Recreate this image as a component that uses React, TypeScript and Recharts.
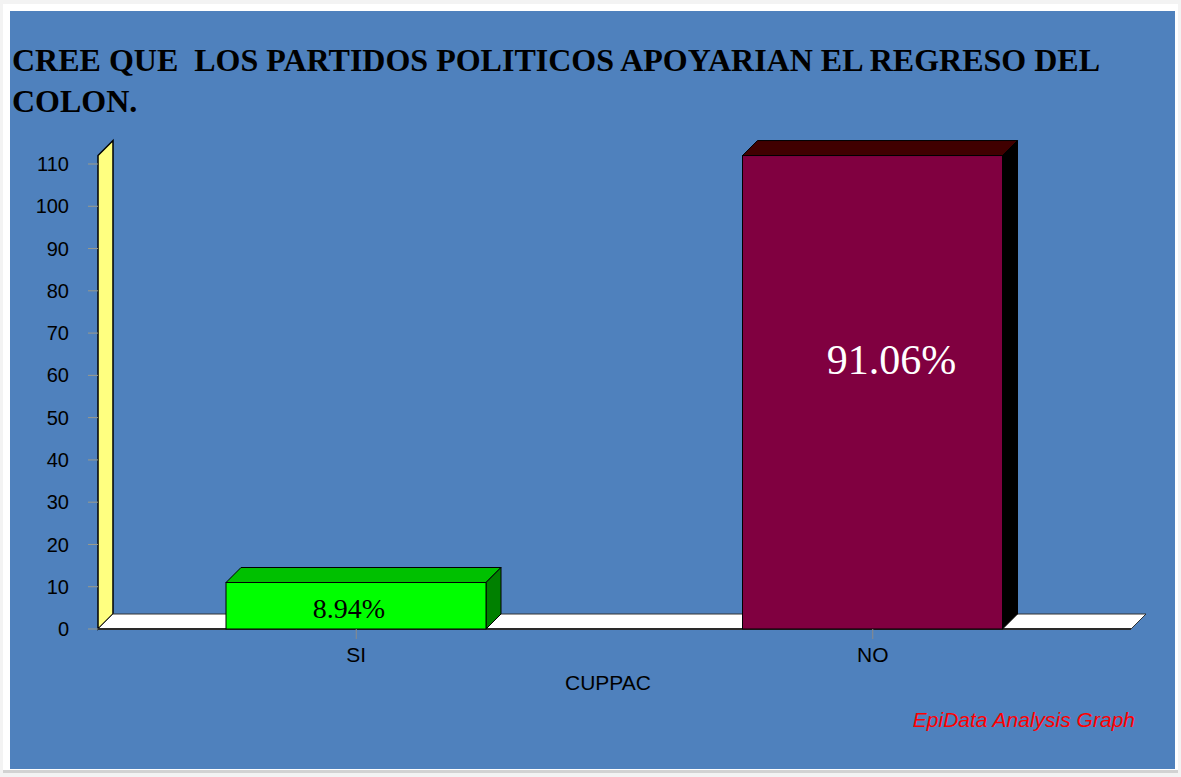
import React from 'react';
import { BarChart, Bar, XAxis, YAxis, ReferenceArea, LabelList } from 'recharts';

// ---- data ----
const categories = ['SI', 'NO'];
const counts = [11, 112];
const yTicks = [0, 10, 20, 30, 40, 50, 60, 70, 80, 90, 100, 110];
const titleLines = ['CREE QUE  LOS PARTIDOS POLITICOS APOYARIAN EL REGRESO DEL', 'COLON.'];
const xAxisTitle = 'CUPPAC';
const footerText = 'EpiData Analysis Graph';

const total = counts.reduce((a, b) => a + b, 0);
const data = categories.map((c, i) => ({
  category: c,
  value: counts[i],
  pct: ((counts[i] / total) * 100).toFixed(2) + '%',
}));
const wallTop = Math.max(...counts);

// ---- styles ----
const DEPTH = 15;
const BAR_STYLES: Record<string, any> = {
  SI: { front: '#00FF00', top: '#00C000', side: '#008000', label: '#000000', fontSize: 28, dx: -7, mode: 'center', dy: 12.5 },
  NO: { front: '#800040', top: '#400000', side: '#000000', label: '#FFFFFF', fontSize: 42, dx: 19, mode: 'top', dy: 218 },
};
const SERIF = '"Liberation Serif", "Times New Roman", serif';
const SANS = '"Liberation Sans", Arial, sans-serif';

const catOf = (props: any) => props.category ?? props.payload?.category ?? categories[props.index ?? 0];

const Box3D = (props: any) => {
  const { x, y, width, height } = props;
  const s = BAR_STYLES[catOf(props)];
  const d = DEPTH;
  return (
    <g>
      <polygon
        points={`${x},${y} ${x + d},${y - d} ${x + width + d},${y - d} ${x + width},${y}`}
        fill={s.top}
        stroke="#000"
        strokeWidth={1}
      />
      <polygon
        points={`${x + width},${y} ${x + width + d},${y - d} ${x + width + d},${y + height - d} ${x + width},${y + height}`}
        fill={s.side}
        stroke="#000"
        strokeWidth={1}
      />
      <rect x={x} y={y} width={width} height={height} fill={s.front} stroke="#000" strokeWidth={1} />
    </g>
  );
};

const WallFloor = (props: any) => {
  const { x, y, width, height } = props;
  const d = DEPTH;
  const bottom = y + height;
  return (
    <g>
      <polygon
        points={`${x},${bottom} ${x},${y} ${x + d},${y - d} ${x + d},${bottom - d}`}
        fill="#FFFF80"
        stroke="#000"
        strokeWidth={1.5}
      />
      <polygon
        points={`${x},${bottom} ${x + d},${bottom - d} ${x + width + d},${bottom - d} ${x + width},${bottom}`}
        fill="#FFFFFF"
        stroke="#333"
        strokeWidth={1}
      />
      <line x1={x} y1={bottom} x2={x + width} y2={bottom} stroke="#2a2a2a" strokeWidth={2} />
    </g>
  );
};

const renderLabel = (props: any) => {
  const vb = props.viewBox || {};
  const x = props.x ?? vb.x;
  const y = props.y ?? vb.y;
  const width = props.width ?? vb.width;
  const height = props.height ?? vb.height;
  const cat = categories[props.index ?? 0];
  const s = BAR_STYLES[cat];
  const cx = x + width / 2 + s.dx;
  const by = s.mode === 'center' ? y + height / 2 + s.dy : y + s.dy;
  return (
    <text x={cx} y={by} textAnchor="middle" fill={s.label} fontSize={s.fontSize} fontFamily={SERIF}>
      {props.value}
    </text>
  );
};

export default function App() {
  return (
    <div style={{ position: 'absolute', left: 0, top: 0, width: 1181, height: 777, background: '#F3F3F3' }}>
      <div style={{ position: 'absolute', left: 3, top: 4, width: 1175, height: 766, background: '#FFFFFF' }} />
      <div style={{ position: 'absolute', left: 3, top: 770, width: 1175, height: 3, background: '#D2D2D2' }} />
      <div style={{ position: 'absolute', left: 10, top: 11, width: 1165, height: 758, background: '#4F81BD' }} />
      <div style={{ position: 'absolute', left: 0, top: 0 }}>
        <BarChart width={1181} height={777} data={data} margin={{ top: 121.73, right: 50, bottom: 108, left: 0 }}>
          <XAxis
            dataKey="category"
            axisLine={false}
            tickSize={10}
            tickMargin={8}
            tickLine={{ stroke: '#8a8a8a' }}
            tick={{ fill: '#000', fontSize: 21, fontFamily: SANS }}
            height={40}
          />
          <YAxis
            type="number"
            domain={[0, 120]}
            ticks={yTicks}
            interval={0}
            width={98}
            tickSize={10}
            tickMargin={19}
            axisLine={false}
            tickLine={{ stroke: '#9a9a8a' }}
            tick={{ fill: '#000', fontSize: 20, fontFamily: SANS }}
          />
          <ReferenceArea y1={0} y2={wallTop} ifOverflow="visible" shape={<WallFloor />} />
          <Bar dataKey="value" barSize={260} isAnimationActive={false} shape={<Box3D />}>
            <LabelList dataKey="pct" content={renderLabel} />
          </Bar>
        </BarChart>
      </div>
      <svg
        width={1181}
        height={777}
        style={{ position: 'absolute', left: 0, top: 0, pointerEvents: 'none' }}
      >
        {titleLines.map((t, i) => (
          <text
            key={i}
            x={12}
            y={71 + i * 41}
            fontFamily={SERIF}
            fontWeight="bold"
            fontSize={32}
            fill="#000"
            style={{ whiteSpace: 'pre' }}
          >
            {t}
          </text>
        ))}
        <text x={608} y={690} textAnchor="middle" fontFamily={SANS} fontSize={21} fill="#000">
          {xAxisTitle}
        </text>
        <text x={1135} y={727} textAnchor="end" fontFamily={SANS} fontStyle="italic" fontSize={21} fill="#FF0000">
          {footerText}
        </text>
      </svg>
    </div>
  );
}
